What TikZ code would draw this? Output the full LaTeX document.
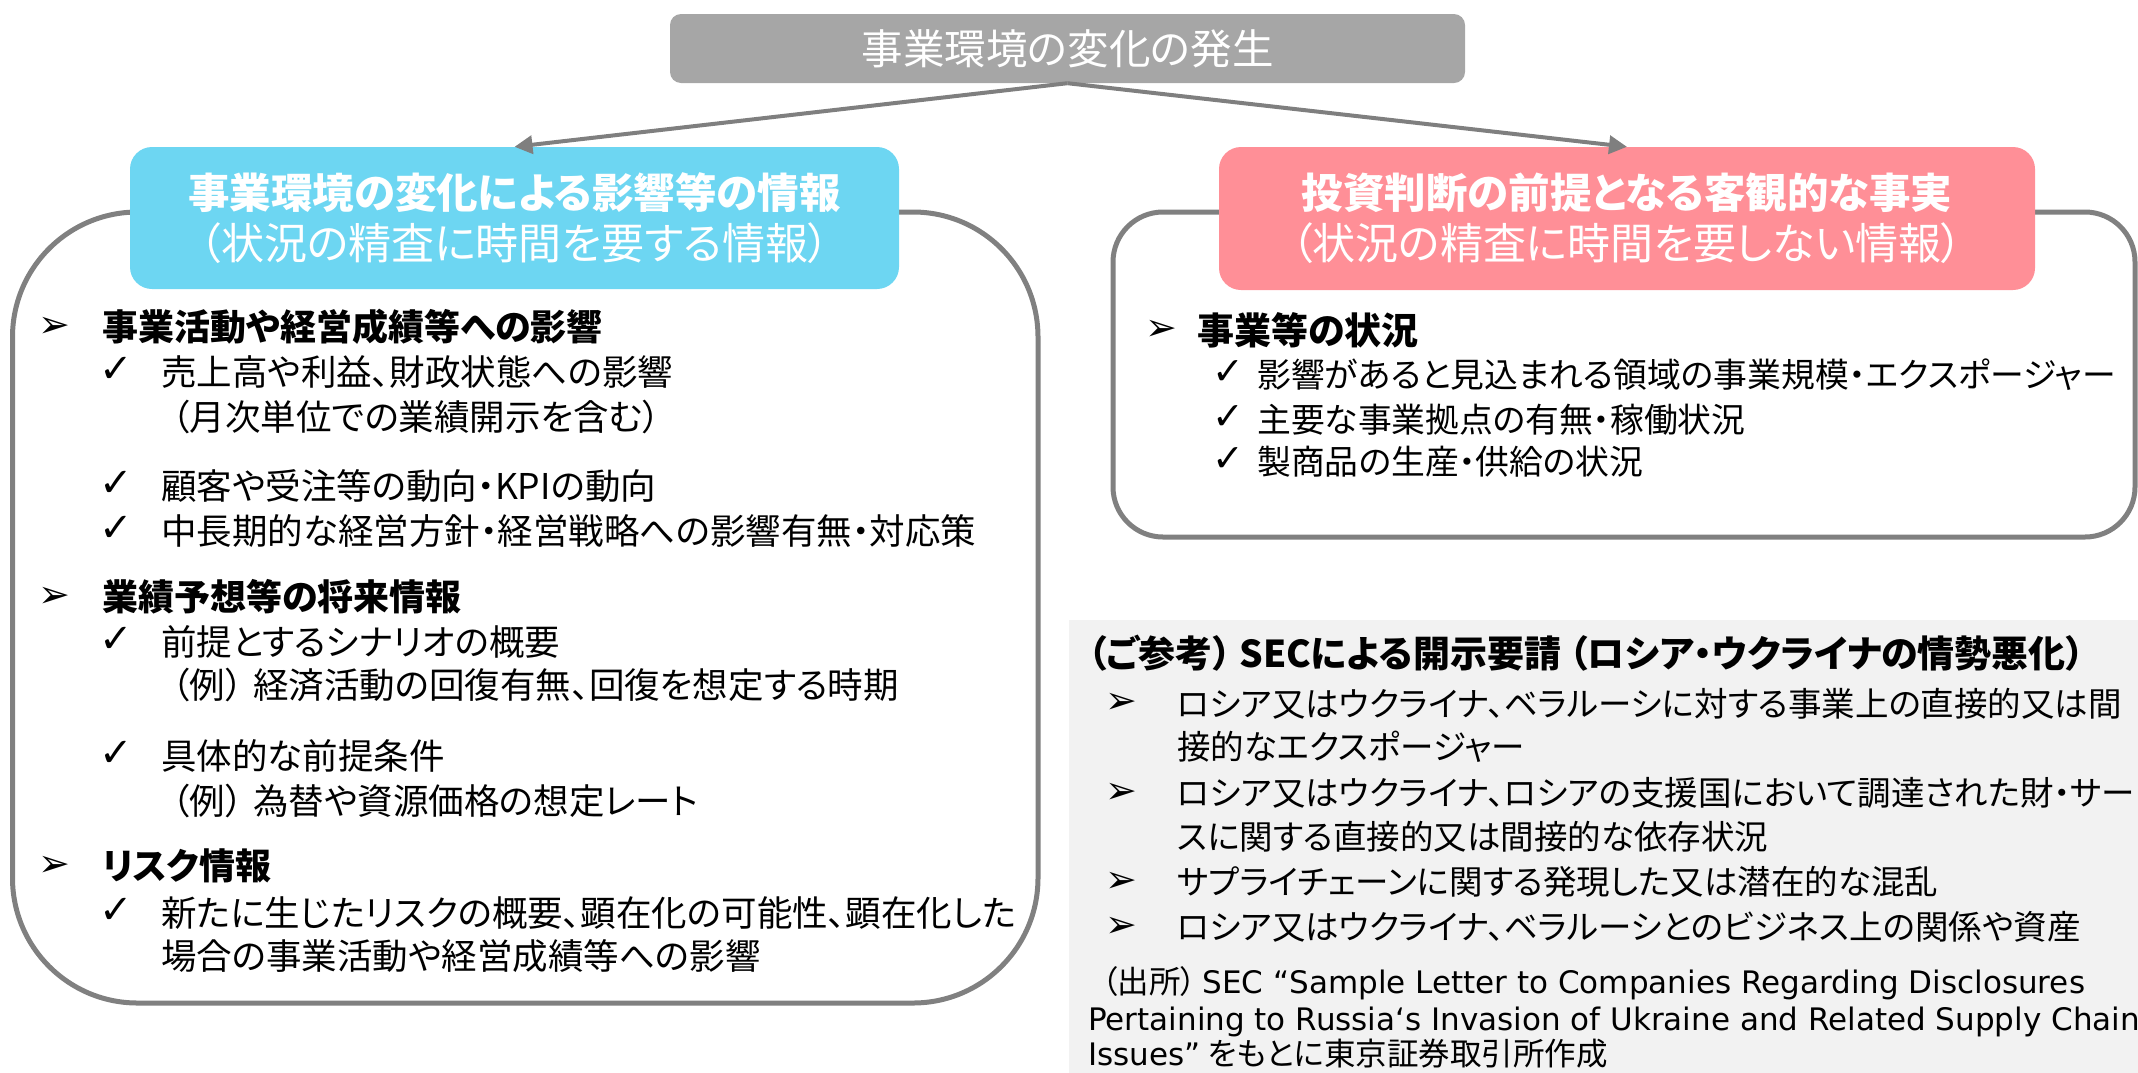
\documentclass[tikz,border=0pt]{standalone}
\usepackage{fontspec}
\setmainfont{Noto Sans CJK JP}[RawFeature=+palt]
\newfontfamily\symf{DejaVu Sans}
\newfontfamily\latf{DejaVu Sans}
\usetikzlibrary{arrows.meta}
\definecolor{topgray}{HTML}{A6A6A6}
\definecolor{arrgray}{HTML}{7F7F7F}
\definecolor{cyanhd}{HTML}{6DD6F2}
\definecolor{pinkhd}{HTML}{FF8F97}
\definecolor{linegray}{HTML}{808080}
\definecolor{secbg}{HTML}{F2F2F2}
\tikzset{
  hdbox/.style={inner sep=0pt,align=center,text=white,rounded corners=22pt,font=\fontsize{41.5}{51}\selectfont},
  outl/.style={draw=linegray,line width=5pt},
  arr/.style={draw=arrgray,line width=4pt,-{Triangle[length=18pt,width=18pt]}},
  ltxt/.style={anchor=west,inner sep=0pt,font=\fontsize{35.5}{35.5}\selectfont},
  lhead/.style={anchor=west,inner sep=0pt,font=\bfseries\fontsize{36}{36}\selectfont},
  rtxt/.style={anchor=west,inner sep=0pt,font=\fontsize{33.8}{33.8}\selectfont},
  rhead/.style={anchor=west,inner sep=0pt,font=\bfseries\fontsize{37}{37}\selectfont},
  stxt/.style={anchor=west,inner sep=0pt,font=\fontsize{33.5}{33.5}\selectfont},
  shead/.style={anchor=west,inner sep=0pt,font=\bfseries\fontsize{37}{37}\selectfont},
  srcs/.style={anchor=west,inner sep=0pt,font=\fontsize{31.5}{31.5}\selectfont},
  bul/.style={inner sep=0pt,font=\symf\fontsize{38}{38}\selectfont},
  chk/.style={inner sep=0pt,font=\symf\fontsize{40}{40}\selectfont},
  sbul/.style={inner sep=0pt,font=\symf\fontsize{38}{38}\selectfont},
  schk/.style={inner sep=0pt,font=\symf\fontsize{38}{38}\selectfont},
}
\newcommand{\srclat}[1]{{\latf\fontsize{31}{31}\selectfont #1}}
\begin{document}
\begin{tikzpicture}[x=1pt,y=-1pt]
\useasboundingbox (0,0) rectangle (2138,1072);
% outline boxes
\draw[outl,rounded corners=125pt] (12.5,212) rectangle (1038,1003);
\draw[outl,rounded corners=50pt] (1113,212) rectangle (2135,537);
% SEC reference box
\fill[secbg] (1069,620) rectangle (2140,1075);
% top box
\node[inner sep=0pt,fill=topgray,rounded corners=11pt,minimum width=795pt,minimum height=69pt,text=white,font=\fontsize{41.5}{41.5}\selectfont] (top) at (1067.5,48.5) {事業環境の変化の発生};
% header boxes
\node[hdbox,fill=cyanhd,minimum width=769pt,minimum height=142pt] (cyan) at (514.5,218) {\textbf{事業環境の変化による影響等の情報}\\{\fontsize{43}{51}\selectfont（状況の精査に時間を要する情報）}};
\node[hdbox,fill=pinkhd,minimum width=816pt,minimum height=143pt] (pink) at (1627,218.5) {\textbf{投資判断の前提となる客観的な事実}\\{\fontsize{43}{51}\selectfont（状況の精査に時間を要しない情報）}};
% arrows
\draw[arr] (top.south) -- (cyan.north);
\draw[arr] (top.south) -- (pink.north);
% left box content
\node[bul] (lb1) at (54,327) {➢};
\node[lhead] (lh1) at (102,327) {事業活動や経営成績等への影響};
\node[chk] (lc1) at (116,370) {✓};
\node[ltxt] (lt1) at (161,372) {売上高や利益、財政状態への影響};
\node[ltxt] (lt1b) at (172,417) {（月次単位での業績開示を含む）};
\node[chk] (lc2) at (116,484) {✓};
\node[ltxt] (lt2) at (161,486) {顧客や受注等の動向・KPIの動向};
\node[chk] (lc3) at (116,529) {✓};
\node[ltxt] (lt3) at (161,531) {中長期的な経営方針・経営戦略への影響有無・対応策};
\node[bul] (lb2) at (54,597) {➢};
\node[lhead] (lh2) at (102,597) {業績予想等の将来情報};
\node[chk] (lc4) at (116,640) {✓};
\node[ltxt] (lt4) at (161,642) {前提とするシナリオの概要};
\node[ltxt] (lt4b) at (172,685) {（例）\hspace{10pt}経済活動の回復有無、回復を想定する時期};
\node[chk] (lc5) at (116,754) {✓};
\node[ltxt] (lt5) at (161,756) {具体的な前提条件};
\node[ltxt] (lt5b) at (172,801) {（例）\hspace{10pt}為替や資源価格の想定レート};
\node[bul] (lb3) at (54,866) {➢};
\node[lhead] (lh3) at (102,866) {リスク情報};
\node[chk] (lc6) at (116,911) {✓};
\node[ltxt] (lt6) at (161,913) {新たに生じたリスクの概要、顕在化の可能性、顕在化した};
\node[ltxt] (lt6b) at (161,956) {場合の事業活動や経営成績等への影響};
% right box content
\node[bul] (rb1) at (1161,330) {➢};
\node[rhead] (rh1) at (1197,330) {事業等の状況};
\node[schk] (rc1) at (1228,373) {✓};
\node[rtxt] (rt1) at (1257,375) {影響があると見込まれる領域の事業規模・エクスポージャー};
\node[schk] (rc2) at (1228,418) {✓};
\node[rtxt] (rt2) at (1257,420) {主要な事業拠点の有無・稼働状況};
\node[schk] (rc3) at (1228,460) {✓};
\node[rtxt] (rt3) at (1257,462) {製商品の生産・供給の状況};
% SEC content
\node[shead] (sh) at (1088,653) {（ご参考）\hspace{8pt}SECによる開示要請\hspace{8pt}（ロシア・ウクライナの情勢悪化）};
\node[sbul] (sb1) at (1121,703) {➢};
\node[stxt] (st1) at (1177,704) {ロシア又はウクライナ、ベラルーシに対する事業上の直接的又は間};
\node[stxt] (st1b) at (1177,747) {接的なエクスポージャー};
\node[sbul] (sb2) at (1121,793) {➢};
\node[stxt] (st2) at (1177,793) {ロシア又はウクライナ、ロシアの支援国において調達された財・サービ};
\node[stxt] (st2b) at (1177,837) {スに関する直接的又は間接的な依存状況};
\node[sbul] (sb3) at (1121,882) {➢};
\node[stxt] (st3) at (1177,882) {サプライチェーンに関する発現した又は潜在的な混乱};
\node[sbul] (sb4) at (1121,927) {➢};
\node[stxt] (st4) at (1177,927) {ロシア又はウクライナ、ベラルーシとのビジネス上の関係や資産};
\node[srcs] (src1) at (1102,983) {（出所）\hspace{6pt}\srclat{SEC “Sample Letter to Companies Regarding Disclosures}};
\node[srcs] (src2) at (1088,1022) {\srclat{Pertaining to Russia‘s Invasion of Ukraine and Related Supply Chain}};
\node[srcs] (src3) at (1088,1054) {\srclat{Issues”} をもとに東京証券取引所作成};
\end{tikzpicture}
\end{document}
